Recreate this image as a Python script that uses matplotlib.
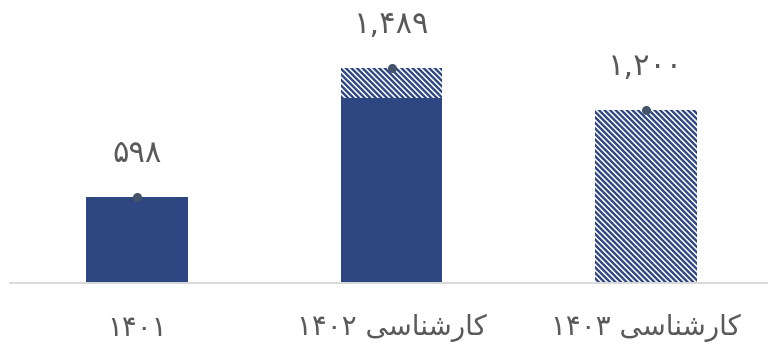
import matplotlib
matplotlib.use("Agg")
import matplotlib.pyplot as plt

# chart data
categories = ["۱۴۰۱", "کارشناسی ۱۴۰۲", "کارشناسی ۱۴۰۳"]
solid_vals = [598, 1280, 0]        # solid (actual) part of each bar
hatched_vals = [0, 209, 1200]      # hatched (estimated) part stacked on top
totals = [598, 1489, 1200]

NAVY = "#2E4783"
DOT = "#44546A"
GREY = "#595959"

# presentation forms: isolated, final, initial, medial
FORMS = {
    "ک": ("\uFB8E", "\uFB8F", "\uFB90", "\uFB91"),
    "ا": ("\uFE8D", "\uFE8E", None, None),
    "ر": ("\uFEAD", "\uFEAE", None, None),
    "ش": ("\uFEB5", "\uFEB6", "\uFEB7", "\uFEB8"),
    "ن": ("\uFEE5", "\uFEE6", "\uFEE7", "\uFEE8"),
    "س": ("\uFEB1", "\uFEB2", "\uFEB3", "\uFEB4"),
    "ی": ("\uFBFC", "\uFBFD", "\uFBFE", "\uFBFF"),
}


def shape_word(w):
    out = []
    for i, ch in enumerate(w):
        if ch not in FORMS:
            out.append(ch)
            continue
        f = FORMS[ch]
        prev = w[i - 1] if i > 0 else None
        nxt = w[i + 1] if i < len(w) - 1 else None
        jp = prev in FORMS and FORMS[prev][2] is not None
        jn = nxt in FORMS and f[2] is not None
        if jp and jn:
            out.append(f[3])
        elif jp:
            out.append(f[1])
        elif jn:
            out.append(f[2])
        else:
            out.append(f[0])
    if any(c in FORMS for c in w):
        out = out[::-1]
    return "".join(out)


def fa(text):
    # simple rtl: shape words, then reverse word order
    return " ".join(shape_word(w) for w in text.split(" ")[::-1])


def fa_num(v):
    return f"{v:,}".translate(str.maketrans("0123456789", "۰۱۲۳۴۵۶۷۸۹"))


plt.rcParams["font.family"] = ["DejaVu Sans"]
plt.rcParams["hatch.linewidth"] = 1.7

fig = plt.figure(figsize=(7.68, 3.49), dpi=100)
ax = fig.add_axes([10 / 768, 66 / 349, 763 / 768, 283 / 349])

x = list(range(len(categories)))
ax.bar(x, solid_vals, width=0.4, color=NAVY, linewidth=0)
ax.bar(x, hatched_vals, width=0.4, bottom=solid_vals, facecolor="white",
       edgecolor=NAVY, hatch="\\" * 6, linewidth=0)

ax.plot(x, totals, "o", color=DOT, markersize=5.5, zorder=5)
for xi, v in zip(x, totals):
    ax.annotate(fa_num(v), (xi, v), xytext=(0, 31), textcoords="offset points",
                ha="center", va="center", fontsize=22, color=GREY)

ax.set_xlim(-0.5, 2.5)
ax.set_ylim(0, 1958)
ax.set_xticks(x)
ax.set_xticklabels([fa(c) for c in categories], fontsize=20, color=GREY)
ax.tick_params(axis="x", length=0, pad=22)
ax.set_yticks([])
for s in ["top", "left", "right"]:
    ax.spines[s].set_visible(False)
ax.spines["bottom"].set_color("#D9D9D9")
ax.spines["bottom"].set_linewidth(1.4)

fig.savefig("out.png", dpi=100)
